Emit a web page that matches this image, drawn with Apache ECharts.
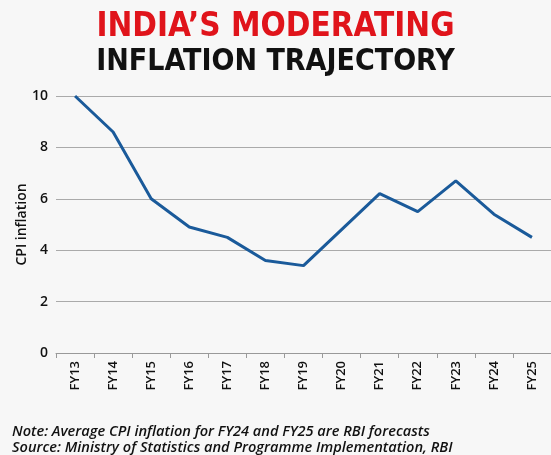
<!DOCTYPE html>
<html><head><meta charset="utf-8">
<script src="https://cdn.jsdelivr.net/npm/echarts@6/dist/echarts.min.js"></script>
<style>html,body{margin:0;padding:0;background:#f7f7f7;}#c{width:551px;height:455px;}</style>
</head><body><div id="c"></div>
<script>
const categories = ['FY13','FY14','FY15','FY16','FY17','FY18','FY19','FY20','FY21','FY22','FY23','FY24','FY25'];
const cpiValues = [10.0, 8.6, 6.0, 4.9, 4.5, 3.6, 3.4, 4.8, 6.2, 5.5, 6.7, 5.4, 4.5];
const yTicks = [0, 2, 4, 6, 8, 10];
const titleLine1 = 'INDIA\u2019S MODERATING';
const titleLine2 = 'INFLATION TRAJECTORY';
const noteText = 'Note: Average CPI inflation for FY24 and FY25 are RBI forecasts';
const sourceText = 'Source: Ministry of Statistics and Programme Implementation, RBI';

const chart = echarts.init(document.getElementById('c'), null, {renderer: 'canvas'});
chart.setOption({
  backgroundColor: '#f7f7f7',
  animation: false,
  title: [
    {text: titleLine1, left: 'center', top: 6, textStyle: {fontFamily: 'DejaVu Sans Condensed', fontWeight: 'bold', fontSize: 33, color: '#e0141b'}},
    {text: titleLine2, left: 'center', top: 42, textStyle: {fontFamily: 'DejaVu Sans Condensed', fontWeight: 'bold', fontSize: 30, color: '#111111'}}
  ],
  graphic: [
    {type: 'text', left: 12, top: 424, style: {text: noteText + '\n' + sourceText, font: 'italic 600 14.6px "Open Sans"', fill: '#111', lineHeight: 16}}
  ],
  grid: {left: 56, right: -11, top: 96, bottom: 102, containLabel: false},
  xAxis: {
    type: 'category', data: categories, boundaryGap: true,
    axisLine: {lineStyle: {color: '#999', width: 1}},
    axisTick: {show: true, length: 5, lineStyle: {color: '#999'}},
    axisLabel: {rotate: 90, fontSize: 13, fontFamily: 'Open Sans', fontWeight: 600, color: '#111', margin: 8}
  },
  yAxis: {
    type: 'value', min: yTicks[0], max: yTicks[yTicks.length-1], interval: 2,
    name: 'CPI inflation', nameLocation: 'middle', nameGap: 27, nameRotate: 90, nameMoveOverlap: false,
    nameTextStyle: {fontSize: 14, fontFamily: 'Open Sans', fontWeight: 600, color: '#111'},
    axisLine: {show: false}, axisTick: {show: false},
    axisLabel: {fontSize: 14, fontFamily: 'Open Sans', fontWeight: 600, color: '#111', margin: 8},
    splitLine: {lineStyle: {color: '#aaa', width: 1}}
  },
  series: [{
    type: 'line', data: cpiValues, symbol: 'none',
    lineStyle: {color: '#1a5a9a', width: 3}
  }]
});
</script></body></html>
